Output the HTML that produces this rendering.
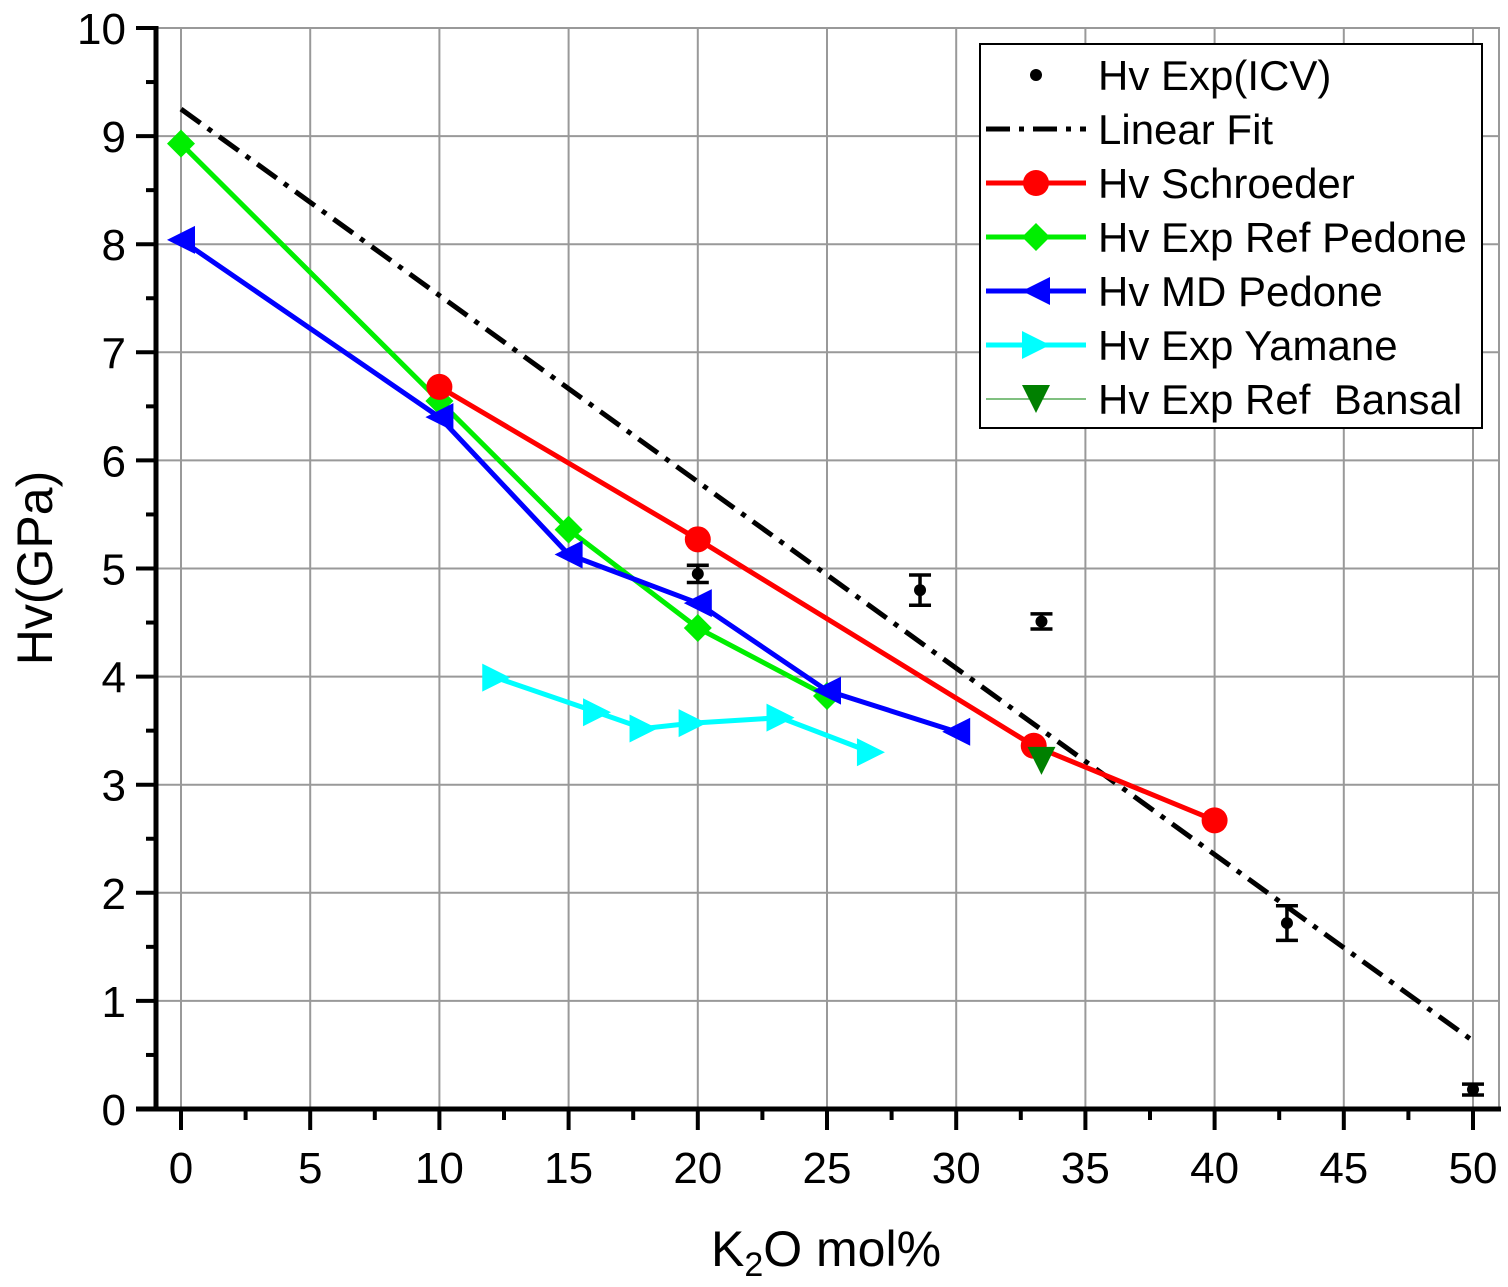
<!DOCTYPE html>
<html><head><meta charset="utf-8"><style>body{margin:0;background:#fff}svg{display:block;font-family:"Liberation Sans",sans-serif}</style></head>
<body>
<svg id="chart" width="1508" height="1287" viewBox="0 0 1508 1287"></svg>
<script>
const xTicks=[0,5,10,15,20,25,30,35,40,45,50];
const yTicks=[0,1,2,3,4,5,6,7,8,9,10];
const icvX=[20,28.6,33.3,42.8,50];
const icvY=[4.95,4.8,4.51,1.72,0.18];
const icvErr=[0.08,0.14,0.07,0.16,0.05];
const fitX=[0,50];
const fitY=[9.25,0.63];
const schX=[10,20,33,40];
const schY=[6.68,5.27,3.36,2.67];
const pedX=[0,10,15,20,25];
const pedY=[8.93,6.55,5.36,4.45,3.82];
const mdX=[0,10,15,20,25,30];
const mdY=[8.04,6.4,5.13,4.68,3.87,3.49];
const yamX=[12.2,16.1,17.9,19.8,23.2,26.7];
const yamY=[3.99,3.67,3.52,3.57,3.62,3.3];
const banX=[33.3];
const banY=[3.22];
const NS="http://www.w3.org/2000/svg",svg=document.getElementById('chart');
const X=v=>181+v*25.84, Y=v=>1109-v*108.1;
function mk(t,a,p){const e=document.createElementNS(NS,t);for(const k in a)e.setAttribute(k,a[k]);(p||svg).appendChild(e);return e;}
xTicks.forEach(v=>{const l=mk('line',{x1:X(v),x2:X(v),y1:28,y2:1109,stroke:'#999','stroke-width':2});});
yTicks.forEach(v=>{const l=mk('line',{x1:156,x2:1499,y1:Y(v),y2:Y(v),stroke:'#999','stroke-width':2});});
mk('rect',{x:156,y:28,width:1343,height:1081,fill:'none',stroke:'#999','stroke-width':2,});
mk('line',{x1:156,x2:156,y1:26,y2:1111,stroke:'#000','stroke-width':5,});
mk('line',{x1:136,x2:1501,y1:1109,y2:1109,stroke:'#000','stroke-width':5,});
xTicks.forEach(v=>{mk('line',{x1:X(v),x2:X(v),y1:1109,y2:1130,stroke:'#000','stroke-width':4});
const t=mk('text',{x:X(v),y:1183,'font-size':44,'text-anchor':'middle'});t.textContent=v;
if(v<50)mk('line',{x1:X(v+2.5),x2:X(v+2.5),y1:1109,y2:1120,stroke:'#000','stroke-width':4});});
yTicks.forEach(v=>{mk('line',{x1:136,x2:156,y1:Y(v),y2:Y(v),stroke:'#000','stroke-width':4});
const t=mk('text',{x:126,y:Y(v)+16,'font-size':44,'text-anchor':'end'});t.textContent=v;
if(v<10)mk('line',{x1:146,x2:156,y1:Y(v+0.5),y2:Y(v+0.5),stroke:'#000','stroke-width':4});});
const yt=mk('text',{x:0,y:0,'font-size':50,'text-anchor':'middle',transform:'translate(52,568) rotate(-90)',});yt.textContent='Hv(GPa)';
const xt=mk('text',{x:826,y:1266,'font-size':50,'text-anchor':'middle',});xt.innerHTML='K<tspan dy="10" font-size="34">2</tspan><tspan dy="-10">O mol%</tspan>';
function line(xs,ys,c,name,w,dash){const p=mk('polyline',{points:xs.map((v,i)=>X(v)+','+Y(ys[i])).join(' '),fill:'none',stroke:c,'stroke-width':w||5});if(dash)p.setAttribute('stroke-dasharray',dash);}
function marker(type,x,y,c,name){let e;const s=14;
if(type==='circle')e=mk('circle',{cx:x,cy:y,r:13,fill:c});
else if(type==='dot')e=mk('circle',{cx:x,cy:y,r:6,fill:c});
else{let pts;if(type==='diamond')pts=[[0,-s],[s,0],[0,s],[-s,0]];else if(type==='left')pts=[[-s,0],[s,-s],[s,s]];else if(type==='right')pts=[[s,0],[-s,-s],[-s,s]];else pts=[[-s,-s],[s,-s],[0,s]];
e=mk('polygon',{points:pts.map(p=>(x+p[0])+','+(y+p[1])).join(' '),fill:c});}
}
line(fitX,fitY,'#000','linear-fit-line',5,'24 9 5 9');
line(yamX,yamY,'#00ffff','yamane-line');yamX.forEach((v,i)=>marker('right',X(v),Y(yamY[i]),'#00ffff','yamane-point'));
line(pedX,pedY,'#00ee00','pedone-exp-line');pedX.forEach((v,i)=>marker('diamond',X(v),Y(pedY[i]),'#00ee00','pedone-exp-point'));
line(mdX,mdY,'#0000ff','md-pedone-line');mdX.forEach((v,i)=>marker('left',X(v),Y(mdY[i]),'#0000ff','md-pedone-point'));
line(schX,schY,'#ff0000','schroeder-line');schX.forEach((v,i)=>marker('circle',X(v),Y(schY[i]),'#ff0000','schroeder-point'));
banX.forEach((v,i)=>marker('down',X(v),Y(banY[i]),'#008000','bansal-point'));
icvX.forEach((v,i)=>{const x=X(v),a=Y(icvY[i]+icvErr[i]),b=Y(icvY[i]-icvErr[i]);
mk('path',{d:`M${x},${a}V${b}M${x-11},${a}H${x+11}M${x-11},${b}H${x+11}`,stroke:'#000','stroke-width':3.5,fill:'none'});
marker('dot',x,Y(icvY[i]),'#000','icv-point');});
const g=mk('g',{});
mk('rect',{x:980,y:44,width:502,height:384,fill:'#fff',stroke:'#000','stroke-width':2},g);
const labels=['Hv Exp(ICV)','Linear Fit','Hv Schroeder','Hv Exp Ref Pedone','Hv MD Pedone','Hv Exp Yamane','Hv Exp Ref  Bansal'];
const cols=['#000','#000','#ff0000','#00ee00','#0000ff','#00ffff','#008000'];
const mks=['dot',null,'circle','diamond','left','right','down'];
labels.forEach((l,i)=>{const y=75+i*54;
if(i>0)mk('line',{x1:986,x2:1086,y1:y,y2:y,stroke:cols[i],'stroke-width':i==6?1:5,'stroke-dasharray':i==1?'24 9 5 9':'none'},g);
if(mks[i])marker(mks[i],1036,y,cols[i],'legend-marker');
const t=mk('text',{x:1098,y:y+15,'font-size':42,fill:'#000',style:'white-space:pre'},g);t.textContent=l;});
</script>
</body></html>
